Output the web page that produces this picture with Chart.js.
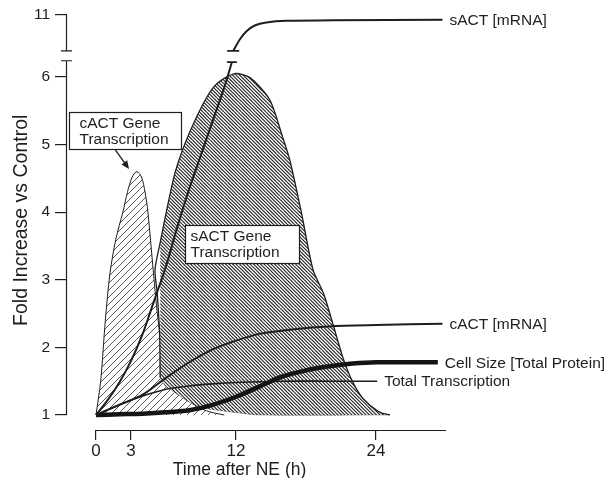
<!DOCTYPE html>
<html>
<head>
<meta charset="utf-8">
<script src="https://cdn.jsdelivr.net/npm/chart.js@4.4.1/dist/chart.umd.min.js"></script>
<style>
  html, body { margin: 0; padding: 0; background: #fff; }
  #wrap { width: 611px; height: 478px; position: relative; }
</style>
</head>
<body>
<div id="wrap"><canvas id="chart"></canvas></div>
<script>
const FONT = '"Liberation Sans", Arial, Helvetica, sans-serif';
const INK = '#1e1e1e';

// axis ticks
const hourTicks = [0, 3, 12, 24];
const foldTicks = [1, 2, 3, 4, 5, 6];
const foldTicksTop = [11];
const axisBreakLow = 6.24;   // where the lower part of the y axis stops
const axisBreakHigh = 9.95;  // where the upper part starts

// cACT gene transcription (light hatch)
const cActGeneHours  = [0, 0.4, 0.8, 1.2, 1.7, 2.3, 2.7, 3.1, 3.5, 3.9, 4.2, 4.45, 4.9, 5.4, 6.0, 7.0, 8.0, 9.5, 11];
const cActGeneValues = [1, 1.5, 2.4, 3.1, 3.6, 4.0, 4.3, 4.52, 4.6, 4.52, 4.3, 4.0, 3.15, 2.3, 1.8, 1.4, 1.2, 1.06, 1.0];

// sACT gene transcription (dense hatch): upper outline and lower outline
const sActGeneTopHours  = [5.5, 5.45, 5.25, 5.06, 5.5, 6.0, 6.8, 8.0, 9.5, 10.5, 11.9, 13.2, 14.9, 16.0, 16.6, 17.6, 18.6, 19.5, 20.3, 21.2, 22.0, 22.9, 24.3, 25.2];
const sActGeneTopValues = [1.55, 2.2, 2.8, 3.15, 3.55, 3.98, 4.6, 5.17, 5.7, 5.92, 6.05, 5.99, 5.66, 5.11, 4.78, 4.0, 3.15, 2.8, 2.35, 1.83, 1.49, 1.24, 1.04, 1.0];
const sActGeneBaseHours  = [5.5, 6.0, 6.8, 7.8, 9.0, 10.0, 12.3, 14, 25.2];
const sActGeneBaseValues = [1.55, 1.42, 1.33, 1.21, 1.12, 1.08, 1.03, 1.0, 1.0];

// sACT mRNA, below and above the axis break
const sActMrnaLowHours  = [0, 1, 2, 3, 4, 5, 6, 7, 8, 9, 10, 11, 11.65];
const sActMrnaLowValues = [1, 1.22, 1.48, 1.8, 2.2, 2.7, 3.2, 3.8, 4.35, 4.85, 5.35, 5.85, 6.22];
const sActMrnaHighHours  = [11.76, 12.34, 12.9, 13.6, 14.6, 16.3, 20.3, 29.7];
const sActMrnaHighValues = [9.95, 10.29, 10.52, 10.69, 10.78, 10.83, 10.84, 10.86];

// cACT mRNA
const cActMrnaHours  = [0, 2, 4, 6, 8, 10, 12, 14, 17, 20, 24, 29.7];
const cActMrnaValues = [1, 1.15, 1.3, 1.55, 1.78, 1.97, 2.1, 2.2, 2.27, 2.31, 2.33, 2.35];

// cell size (total protein)
const cellSizeHours  = [0, 2, 4, 6, 8, 10, 12, 14, 16, 18, 20, 22, 24, 29.3];
const cellSizeValues = [1, 1.01, 1.02, 1.04, 1.07, 1.15, 1.27, 1.42, 1.57, 1.66, 1.72, 1.76, 1.78, 1.78];

// total transcription
const totalTxHours  = [0, 2, 4, 6, 8, 10, 12, 16, 20, 24.1];
const totalTxValues = [1, 1.15, 1.28, 1.38, 1.43, 1.46, 1.48, 1.5, 1.5, 1.5];

const pts = (xs, ys) => xs.map((x, i) => ({ x: x, y: ys[i] }));

function hatch(size, step, rising, color, width, bg) {
    const c = document.createElement('canvas');
    c.width = size;
    c.height = size;
    const g = c.getContext('2d');
    if (bg) {
        g.fillStyle = bg;
        g.fillRect(0, 0, size, size);
    }
    g.strokeStyle = color;
    g.lineWidth = width;
    g.beginPath();
    for (let k = -size; k <= size; k += step) {
        if (rising) {
            g.moveTo(k, size);
            g.lineTo(k + size, 0);
        } else {
            g.moveTo(k, 0);
            g.lineTo(k + size, size);
        }
    }
    g.stroke();
    return g.createPattern(c, 'repeat');
}

const lightHatch = hatch(14, 7, true, '#444', 0.9, null);
const denseHatch = hatch(14, 3.5, false, '#262626', 1.15, '#fff');

const extras = {
    id: 'extras',
    afterDatasetsDraw(chart) {
        const g = chart.ctx;
        const xs = chart.scales.x;
        const yl = chart.scales.yLow;
        g.save();
        g.strokeStyle = INK;
        g.fillStyle = INK;

        // break caps on the sACT mRNA line
        const low = chart.getDatasetMeta(3).data;
        const high = chart.getDatasetMeta(4).data;
        const a = low[low.length - 1], b = high[0];
        g.lineWidth = 1.6;
        g.beginPath();
        g.moveTo(a.x - 5, a.y); g.lineTo(a.x + 5, a.y);
        g.moveTo(b.x - 6, b.y); g.lineTo(b.x + 6, b.y);
        g.stroke();

        // labels at the ends of the lines
        g.font = '15.5px ' + FONT;
        g.textBaseline = 'middle';
        g.textAlign = 'left';
        [[4, 'sACT [mRNA]'], [5, 'cACT [mRNA]'], [6, 'Cell Size [Total Protein]'], [7, 'Total Transcription']].forEach(function (p) {
            const d = chart.getDatasetMeta(p[0]).data;
            const e = d[d.length - 1];
            g.fillText(p[1], e.x + 7, e.y + 1);
        });

        // boxed notes
        function note(h, v, w, hgt, lines, padX) {
            const left = Math.round(xs.getPixelForValue(h)) + 0.5;
            const top = Math.round(yl.getPixelForValue(v)) + 0.5;
            g.fillStyle = '#fff';
            g.fillRect(left, top, w, hgt);
            g.lineWidth = 1.2;
            g.strokeRect(left, top, w, hgt);
            g.fillStyle = INK;
            lines.forEach(function (t, i) {
                g.fillText(t, left + padX, top + 11 + i * 16.5);
            });
        }
        note(-2.31, 5.48, 112, 37, ['cACT Gene', 'Transcription'], 10);
        note(7.63, 3.81, 114, 38, ['sACT Gene', 'Transcription'], 5);

        // arrow to the cACT peak
        const x1 = xs.getPixelForValue(1.63), y1 = yl.getPixelForValue(4.93);
        const x2 = xs.getPixelForValue(2.83), y2 = yl.getPixelForValue(4.64);
        const ang = Math.atan2(y2 - y1, x2 - x1);
        g.lineWidth = 1.3;
        g.beginPath();
        g.moveTo(x1, y1);
        g.lineTo(x2 - 6 * Math.cos(ang), y2 - 6 * Math.sin(ang));
        g.stroke();
        g.beginPath();
        g.moveTo(x2, y2);
        g.lineTo(x2 - 8 * Math.cos(ang) + 3.5 * Math.sin(ang), y2 - 8 * Math.sin(ang) - 3.5 * Math.cos(ang));
        g.lineTo(x2 - 8 * Math.cos(ang) - 3.5 * Math.sin(ang), y2 - 8 * Math.sin(ang) + 3.5 * Math.cos(ang));
        g.closePath();
        g.fill();
        g.restore();
    },
    afterDraw(chart) {
        const g = chart.ctx;
        const xs = chart.scales.x;
        const yh = chart.scales.yHigh;
        const yl = chart.scales.yLow;
        const ax = chart.chartArea.left - 0.5;
        const bottom = Math.round(chart.chartArea.bottom) + 0.5;
        g.save();
        g.strokeStyle = INK;
        g.lineWidth = 1.2;
        g.beginPath();
        g.moveTo(ax, yh.getPixelForValue(foldTicksTop[0]));
        g.lineTo(ax, yh.getPixelForValue(axisBreakHigh));
        g.moveTo(ax - 5.5, yh.getPixelForValue(axisBreakHigh));
        g.lineTo(ax + 5.5, yh.getPixelForValue(axisBreakHigh));
        g.moveTo(ax - 5.5, yl.getPixelForValue(axisBreakLow));
        g.lineTo(ax + 5.5, yl.getPixelForValue(axisBreakLow));
        g.moveTo(ax, yl.getPixelForValue(axisBreakLow));
        g.lineTo(ax, yl.getPixelForValue(foldTicks[0]));
        g.moveTo(xs.getPixelForValue(0), bottom);
        g.lineTo(xs.getPixelForValue(30), bottom);
        g.stroke();

        g.fillStyle = INK;
        g.textAlign = 'center';
        g.textBaseline = 'middle';
        g.font = '17.5px ' + FONT;
        g.fillText('Time after NE (h)', xs.getPixelForValue(12.3), chart.chartArea.bottom + 40);
        g.translate(chart.chartArea.left - 45, yl.getPixelForValue(3.88));
        g.rotate(-Math.PI / 2);
        g.font = '19.5px ' + FONT;
        g.fillText('Fold Increase vs Control', 0, 0);
        g.restore();
    }
};

Chart.defaults.font.family = FONT;
Chart.defaults.color = INK;

const tickGrid = function (len) {
    return { drawOnChartArea: false, drawTicks: true, tickLength: len, color: INK, lineWidth: 1.2 };
};

new Chart(document.getElementById('chart'), {
    type: 'line',
    data: {
        datasets: [
            { label: 'sACT Gene Transcription', data: pts(sActGeneTopHours, sActGeneTopValues), yAxisID: 'yLow',
              fill: '+1', backgroundColor: denseHatch, borderColor: INK, borderWidth: 1.3, tension: 0.25, order: 9 },
            { label: 'sACT gene base', data: pts(sActGeneBaseHours, sActGeneBaseValues), yAxisID: 'yLow',
              fill: false, borderColor: 'rgba(40,40,40,0.45)', borderWidth: 0.7, tension: 0.3, order: 8 },
            { label: 'cACT Gene Transcription', data: pts(cActGeneHours, cActGeneValues), yAxisID: 'yLow',
              fill: { value: 1 }, backgroundColor: lightHatch, borderColor: INK, borderWidth: 1, tension: 0.3, order: 10 },
            { label: 'sACT [mRNA] low', data: pts(sActMrnaLowHours, sActMrnaLowValues), yAxisID: 'yLow',
              borderColor: INK, borderWidth: 2, tension: 0.3, order: 1 },
            { label: 'sACT [mRNA]', data: pts(sActMrnaHighHours, sActMrnaHighValues), yAxisID: 'yHigh',
              borderColor: INK, borderWidth: 2, tension: 0.3, order: 1 },
            { label: 'cACT [mRNA]', data: pts(cActMrnaHours, cActMrnaValues), yAxisID: 'yLow',
              borderColor: INK, borderWidth: 2, tension: 0.3, order: 2 },
            { label: 'Cell Size [Total Protein]', data: pts(cellSizeHours, cellSizeValues), yAxisID: 'yLow',
              borderColor: '#141414', borderWidth: 4.5, tension: 0.3, order: 3 },
            { label: 'Total Transcription', data: pts(totalTxHours, totalTxValues), yAxisID: 'yLow',
              borderColor: INK, borderWidth: 1.6, tension: 0.3, order: 4 }
        ]
    },
    options: {
        responsive: true,
        maintainAspectRatio: false,
        animation: false,
        layout: { padding: { left: 33, right: 6, top: 8, bottom: 0 } },
        elements: { point: { radius: 0 } },
        plugins: { legend: { display: false }, tooltip: { enabled: false } },
        scales: {
            x: {
                type: 'linear', min: -2.486, max: 43.63,
                afterBuildTicks: function (s) { s.ticks = hourTicks.map(v => ({ value: v })); },
                afterFit: function (s) { s.height = 48; s.paddingLeft = 0; s.paddingRight = 0; },
                grid: tickGrid(10),
                border: { display: false },
                ticks: { padding: 1, font: { size: 17 }, maxRotation: 0, autoSkip: false }
            },
            yHigh: {
                type: 'linear', position: 'left', stack: 'fold', stackWeight: 48, weight: 2,
                min: 9.8, max: 11.2,
                afterBuildTicks: function (s) { s.ticks = foldTicksTop.map(v => ({ value: v })); },
                afterFit: function (s) { s.width = 34; s.paddingTop = 0; s.paddingBottom = 0; },
                grid: tickGrid(12),
                border: { display: false },
                ticks: { padding: 5, font: { size: 15.5 } }
            },
            yLow: {
                type: 'linear', position: 'left', stack: 'fold', stackWeight: 374, weight: 1,
                min: 0.778, max: 6.31,
                afterBuildTicks: function (s) { s.ticks = foldTicks.map(v => ({ value: v })); },
                afterFit: function (s) { s.width = 34; s.paddingTop = 0; s.paddingBottom = 0; },
                grid: tickGrid(12),
                border: { display: false },
                ticks: { padding: 5, font: { size: 15.5 } }
            }
        }
    },
    plugins: [extras]
});
</script>
</body>
</html>
